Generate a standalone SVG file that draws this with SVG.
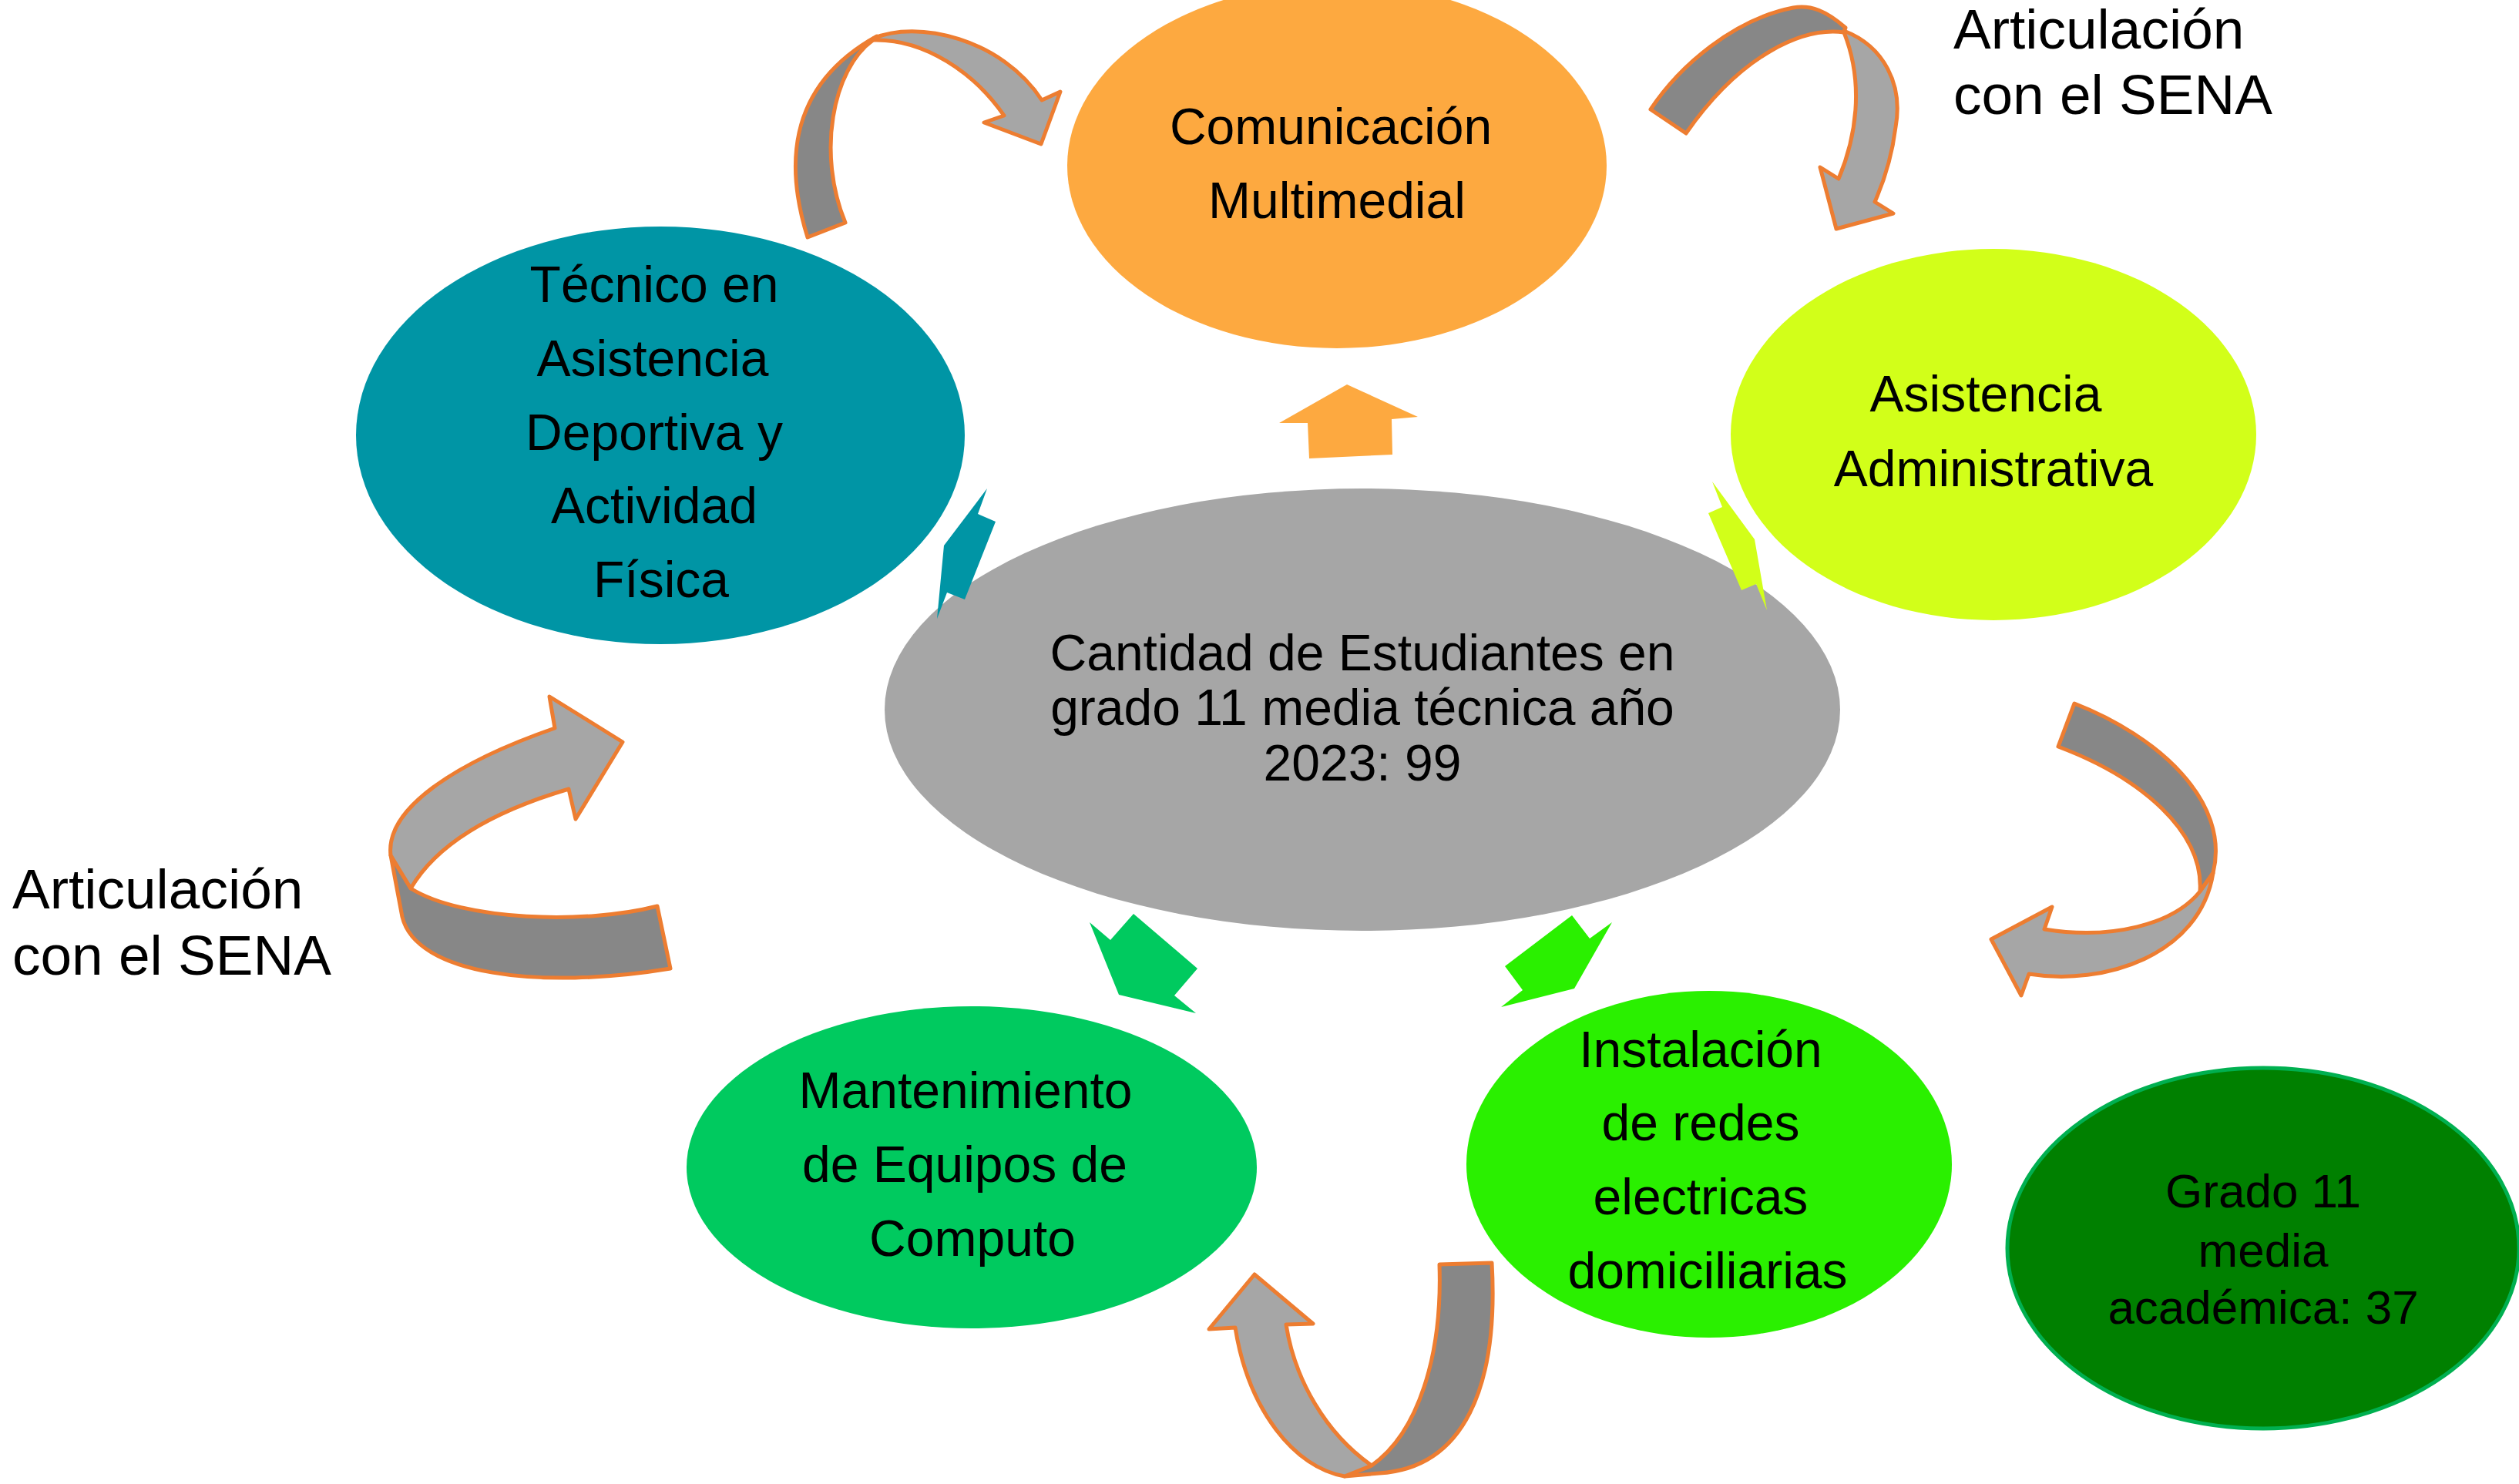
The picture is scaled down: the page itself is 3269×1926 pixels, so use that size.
<svg xmlns="http://www.w3.org/2000/svg" width="3269" height="1926" viewBox="0 0 3269 1926">
<style>
.t{font-family:"Liberation Sans",Arial,sans-serif;font-size:66px;fill:#000;text-anchor:middle}
.lab{font-family:"Liberation Sans",Arial,sans-serif;font-size:73px;fill:#000}
.dk{fill:#878787;stroke:#ED7D31;stroke-width:5;stroke-linejoin:round}
.lt{fill:#A6A6A6;stroke:#ED7D31;stroke-width:5;stroke-linejoin:round}
</style>
<rect x="0" y="0" width="3269" height="1926" fill="#FFFFFF"/>
<g id="connectors">
  <!-- A: Tecnico -> Comunicacion -->
  <path class="dk" d="M1048,308 C1022,225 1015,115 1138,47 L1133,52 C1080,90 1060,200 1097,289 Z"/>
  <path class="lt" d="M1133,50 C1190,25 1300,50 1352,130 L1376,119 L1351,187 L1277,159 L1303,150 C1265,95 1200,50 1133,52 Z"/>
  <!-- B: Comunicacion -> Asistencia -->
  <path class="dk" d="M2142,142 C2180,85 2250,25 2327,10 C2350,6 2370,14 2395,36 L2393,42 C2340,35 2260,70 2188,173 Z"/>
  <path class="lt" d="M2393,40 C2445,60 2470,110 2460,165 C2455,205 2445,235 2433,262 L2457,277 L2383,297 L2362,217 L2386,232 C2408,180 2420,110 2393,42 Z"/>
  <!-- C: right loop -->
  <path class="dk" d="M2692,913 C2800,955 2895,1040 2872,1133 L2855,1157 C2860,1080 2780,1010 2671,969 Z"/>
  <path class="lt" d="M2872,1133 C2855,1240 2730,1280 2633,1264 L2623,1292 L2584,1219 L2663,1177 L2653,1206 C2740,1220 2820,1200 2855,1157 Z"/>
  <!-- D: bottom loop -->
  <path class="dk" d="M1868,1641 L1936,1639 C1945,1800 1900,1905 1790,1912 L1745,1916 L1780,1902 C1840,1860 1872,1760 1868,1641 Z"/>
  <path class="lt" d="M1745,1916 C1680,1905 1620,1830 1603,1723 L1569,1725 L1628,1654 L1704,1718 L1669,1719 C1680,1790 1720,1860 1780,1902 Z"/>
  <!-- E: left loop -->
  <path class="dk" d="M507,1110 L522,1190 C540,1265 700,1285 870,1257 L853,1176 C760,1200 600,1195 533,1153 Z"/>
  <path class="lt" d="M507,1110 C500,1050 590,990 720,945 L713,904 L808,963 L747,1063 L738,1024 C650,1050 570,1090 533,1153 Z"/>
</g>
<g id="n-comunicacion">
  <ellipse cx="1735" cy="215" rx="350" ry="237" fill="#FDA940"/>
  <text class="t" x="1727" y="187">Comunicación</text>
  <text class="t" x="1735" y="283">Multimedial</text>
</g>
<g id="n-tecnico">
  <ellipse cx="857" cy="565" rx="395" ry="271" fill="#0095A5"/>
  <text class="t" x="849" y="392">Técnico en</text>
  <text class="t" x="847" y="488">Asistencia</text>
  <text class="t" x="849" y="584">Deportiva y</text>
  <text class="t" x="849" y="679">Actividad</text>
  <text class="t" x="858" y="775">Física</text>
</g>
<g id="n-asistencia">
  <ellipse cx="2587" cy="564" rx="341" ry="241" fill="#D2FF19"/>
  <text class="t" x="2577" y="534">Asistencia</text>
  <text class="t" x="2587" y="631">Administrativa</text>
</g>
<g id="n-central">
  <ellipse cx="1768" cy="921" rx="620" ry="287" fill="#A6A6A6"/>
  <text class="t" x="1768" y="870">Cantidad de Estudiantes en</text>
  <text class="t" x="1768" y="941">grado 11 media técnica año</text>
  <text class="t" x="1768" y="1013">2023: 99</text>
</g>
<g id="n-mantenimiento">
  <ellipse cx="1261" cy="1515" rx="370" ry="209" fill="#00CA5F"/>
  <text class="t" x="1253" y="1438">Mantenimiento</text>
  <text class="t" x="1252" y="1534">de Equipos de</text>
  <text class="t" x="1262" y="1630">Computo</text>
</g>
<g id="n-instalacion">
  <ellipse cx="2218" cy="1511" rx="315" ry="225" fill="#2AF000"/>
  <text class="t" x="2207" y="1385">Instalación</text>
  <text class="t" x="2207" y="1480">de redes</text>
  <text class="t" x="2207" y="1576">electricas</text>
  <text class="t" x="2216" y="1672">domiciliarias</text>
</g>
<g id="n-grado">
  <ellipse cx="2937" cy="1620" rx="332" ry="234" fill="#008000" stroke="#00B050" stroke-width="5"/>
  <text class="t" x="2937" y="1567" style="font-size:62px">Grado 11</text>
  <text class="t" x="2937" y="1644" style="font-size:62px">media</text>
  <text class="t" x="2937" y="1718" style="font-size:62px">académica: 37</text>
</g>
<g id="small-arrows">
  <polygon fill="#FDA940" points="1748,499 1840,541 1806,544 1807,590 1699,595 1697,549 1660,549"/>
  <polygon fill="#0095A5" points="1281,634 1269,667 1292,677 1252,778 1229,769 1216,803 1225,708"/>
  <polygon fill="#D2FF19" points="2222,625 2235,658 2217,666 2260,766 2279,758 2293,792 2277,700"/>
  <polygon fill="#00CA5F" points="1414,1197 1441,1220 1471,1186 1554,1257 1524,1292 1552,1315 1452,1291"/>
  <polygon fill="#2AF000" points="2040,1188 2063,1218 2092,1197 2043,1283 1948,1307 1976,1285 1953,1254"/>
</g>
<g id="labels">
  <text class="lab" x="2535" y="63">Articulación</text>
  <text class="lab" x="2535" y="148">con el SENA</text>
  <text class="lab" x="16" y="1179">Articulación</text>
  <text class="lab" x="16" y="1265">con el SENA</text>
</g>
</svg>
